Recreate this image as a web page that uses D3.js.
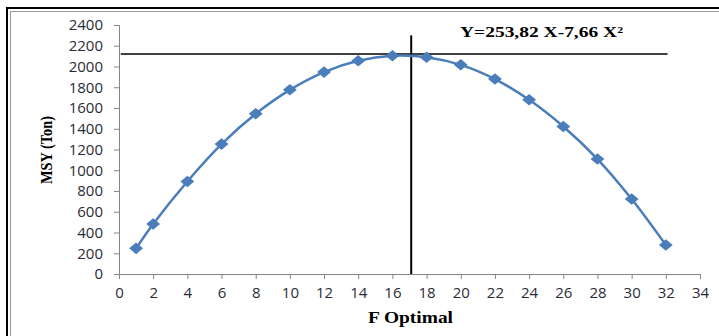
<!DOCTYPE html>
<html>
<head>
<meta charset="utf-8">
<script src="https://cdn.jsdelivr.net/npm/d3@7"></script>
<style>
  body { margin: 0; background: #fff; }
  svg { display: block; }
</style>
</head>
<body>
<svg id="chart" width="719" height="336"></svg>
<script>
// values
const fValues = [1, 2, 4, 6, 8, 10, 12, 14, 16, 18, 20, 22, 24, 26, 28, 30, 32];
const msyValues = [247, 482, 892, 1252, 1544, 1775, 1946, 2055, 2103, 2090, 2016, 1879, 1679, 1422, 1108, 722, 279];
const xTicks = [0, 2, 4, 6, 8, 10, 12, 14, 16, 18, 20, 22, 24, 26, 28, 30, 32, 34];
const yTicks = [0, 200, 400, 600, 800, 1000, 1200, 1400, 1600, 1800, 2000, 2200, 2400];
const hRefY = 2120, hRefX = [0.1, 32.1];
const vRefX = 17.1, vRefY = [0, 2300];
const equation = "Y=253,82 X-7,66 X²";

const svg = d3.select("#chart"),
      margin = { top: 25, right: 19, bottom: 62, left: 119 },
      width = +svg.attr("width") - margin.left - margin.right,
      height = +svg.attr("height") - margin.top - margin.bottom;

// frame
svg.append("line").attr("x1", 6).attr("x2", 719).attr("y1", 8).attr("y2", 8)
    .attr("stroke", "#000").attr("stroke-width", 2);
svg.append("line").attr("x1", 10).attr("x2", 719).attr("y1", 11.5).attr("y2", 11.5)
    .attr("stroke", "#999").attr("stroke-width", 1);
svg.append("line").attr("x1", 7).attr("x2", 7).attr("y1", 7).attr("y2", 336)
    .attr("stroke", "#000").attr("stroke-width", 2);
svg.append("line").attr("x1", 10.5).attr("x2", 10.5).attr("y1", 11).attr("y2", 336)
    .attr("stroke", "#999").attr("stroke-width", 1);

const g = svg.append("g").attr("transform", `translate(${margin.left},${margin.top})`);

const x = d3.scaleLinear().domain([0, 34]).range([0, width]);
const y = d3.scaleLinear().domain([0, 2400]).range([height, 0]);

const xAxis = g.append("g")
    .attr("transform", `translate(0,${height})`)
    .call(d3.axisBottom(x).tickValues(xTicks).tickFormat(d3.format("d")).tickSize(5).tickPadding(8));
const yAxis = g.append("g")
    .call(d3.axisLeft(y).tickValues(yTicks).tickFormat(d3.format("d")).tickSize(5).tickPadding(11));

[xAxis, yAxis].forEach(a => {
  a.select(".domain").attr("stroke", "#868686");
  a.selectAll(".tick line").attr("stroke", "#868686");
  a.selectAll(".tick text")
      .attr("fill", "#2b2b36")
      .style("font-family", "'Open Sans', sans-serif")
      .style("font-size", "15px");
});

// reference lines
g.append("line")
    .attr("x1", x(hRefX[0])).attr("x2", x(hRefX[1]))
    .attr("y1", y(hRefY)).attr("y2", y(hRefY))
    .attr("stroke", "#000").attr("stroke-width", 1.5);
g.append("line")
    .attr("x1", x(vRefX)).attr("x2", x(vRefX))
    .attr("y1", y(vRefY[0])).attr("y2", y(vRefY[1]))
    .attr("stroke", "#000").attr("stroke-width", 2);

const data = fValues.map((f, i) => ({ f, msy: msyValues[i] }));

const line = d3.line()
    .x(d => x(d.f))
    .y(d => y(d.msy))
    .curve(d3.curveCatmullRom.alpha(0.5));

g.append("path")
    .datum(data)
    .attr("fill", "none")
    .attr("stroke", "#4a7ebb")
    .attr("stroke-width", 2.5)
    .attr("d", line);

g.selectAll(".dot")
    .data(data)
    .enter().append("path")
    .attr("class", "dot")
    .attr("transform", d => `translate(${x(d.f)},${y(d.msy)}) scale(1.2,1)`)
    .attr("d", d3.symbol().type(d3.symbolDiamond2).size(85))
    .attr("fill", "#4a7ebb");

// texts
svg.append("text")
    .attr("x", 460).attr("y", 37)
    .attr("textLength", 163).attr("lengthAdjust", "spacingAndGlyphs")
    .style("font-family", "'Liberation Serif', serif")
    .style("font-weight", "bold")
    .style("font-size", "15px")
    .text(equation);

svg.append("text")
    .attr("x", 368).attr("y", 323)
    .attr("textLength", 85).attr("lengthAdjust", "spacingAndGlyphs")
    .style("font-family", "'Liberation Serif', serif")
    .style("font-weight", "bold")
    .style("font-size", "16px")
    .text("F Optimal");

svg.append("text")
    .attr("transform", "translate(52,150) rotate(-90)")
    .attr("text-anchor", "middle")
    .attr("textLength", 68).attr("lengthAdjust", "spacingAndGlyphs")
    .style("font-family", "'Liberation Serif', serif")
    .style("font-weight", "bold")
    .style("font-size", "17px")
    .text("MSY (Ton)");
</script>
</body>
</html>
